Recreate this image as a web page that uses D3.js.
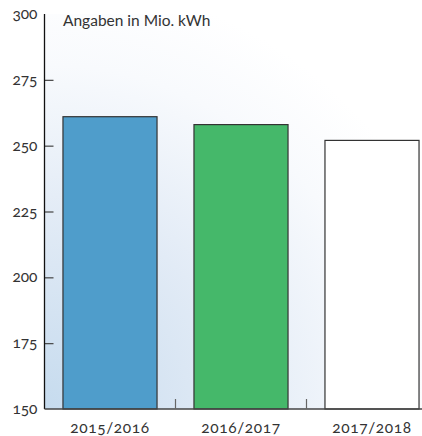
<!DOCTYPE html>
<html>
<head>
<meta charset="utf-8">
<script src="https://cdn.jsdelivr.net/npm/d3@7"></script>
<style>
    body { margin: 0; background: #fff; }
    svg { display: block; }
    .tick-label { font-family: Lato, "Noto Sans", sans-serif; font-size: 15.5px; font-weight: 400; fill: #333; font-feature-settings: "onum" 1; font-variant-numeric: oldstyle-nums; }
    .x-label { letter-spacing: 0.6px; }
</style>
</head>
<body>
<svg class="grafico"></svg>
<script>
    // data
    const jahre = ["2015/2016", "2016/2017", "2017/2018"];
    const werte = [261, 258, 252];
    const farben = ["#4f9dcb", "#45b86a", "#ffffff"];
    const yTicks = [150, 175, 200, 225, 250, 275, 300];
    const einheit = "Angaben in Mio. kWh";

    const width = 422,
        height = 436,
        links = 44.5,
        oben = 14,
        unten = 409;

    let svg = d3.select(".grafico")
        .attr("width", width)
        .attr("height", height);

    let x = d3.scaleBand()
        .domain(jahre)
        .range([links, links + 393])
        .paddingInner(0.282)
        .paddingOuter(0.141);

    let y = d3.scaleLinear()
        .domain([150, 300])
        .range([unten, oben]);

    // hintergrund verlauf
    let grad = svg.append("defs").append("radialGradient")
        .attr("id", "bg")
        .attr("gradientUnits", "userSpaceOnUse")
        .attr("cx", links).attr("cy", unten)
        .attr("r", 430);
    grad.append("stop").attr("offset", "0").attr("stop-color", "#c6dbee");
    grad.append("stop").attr("offset", "0.45").attr("stop-color", "#e2ebf6");
    grad.append("stop").attr("offset", "0.8").attr("stop-color", "#f8fafd");
    grad.append("stop").attr("offset", "1").attr("stop-color", "#ffffff");

    svg.append("rect")
        .attr("x", links)
        .attr("y", y(300))
        .attr("width", width - links)
        .attr("height", unten - y(300))
        .attr("fill", "url(#bg)");

    // balken
    svg.selectAll(".bar")
        .data(werte)
        .enter()
        .append("rect")
        .attr("class", "bar")
        .attr("x", (d, i) => x(jahre[i]))
        .attr("y", d => y(d))
        .attr("width", x.bandwidth())
        .attr("height", d => y(150) - y(d))
        .attr("fill", (d, i) => farben[i])
        .attr("stroke", "#333")
        .attr("stroke-width", 1.2);

    // y achse
    let yAxis = svg.append("g")
        .attr("transform", `translate(${links},0)`)
        .call(d3.axisRight(y).tickValues(yTicks).tickSize(9).tickFormat(""));
    yAxis.select(".domain").remove();
    yAxis.selectAll(".tick line")
        .attr("stroke", "#444")
        .attr("stroke-width", 1.2)
        .attr("x2", d => d === 150 || d === 300 ? 0 : 9);

    yAxis.selectAll(".tick")
        .append("text")
        .attr("class", "tick-label")
        .attr("x", -7)
        .attr("dy", "0.3em")
        .attr("text-anchor", "end")
        .text(d => d);

    svg.append("line")
        .attr("x1", links).attr("x2", links)
        .attr("y1", y(300)).attr("y2", unten)
        .attr("stroke", "#111").attr("stroke-width", 1.3);

    // x achse
    svg.append("line")
        .attr("x1", links).attr("x2", width)
        .attr("y1", unten).attr("y2", unten)
        .attr("stroke", "#444").attr("stroke-width", 1.3);

    svg.selectAll(".sep")
        .data(jahre.slice(1))
        .enter()
        .append("line")
        .attr("class", "sep")
        .attr("x1", d => x(d) - x.step() * x.paddingInner() / 2)
        .attr("x2", d => x(d) - x.step() * x.paddingInner() / 2)
        .attr("y1", unten)
        .attr("y2", unten - 10)
        .attr("stroke", "#666")
        .attr("stroke-width", 1.2);

    svg.selectAll(".xlabel")
        .data(jahre)
        .enter()
        .append("text")
        .attr("class", "tick-label x-label")
        .attr("x", d => x(d) + x.bandwidth() / 2)
        .attr("y", 433)
        .attr("text-anchor", "middle")
        .text(d => d);

    svg.append("text")
        .attr("class", "tick-label")
        .attr("x", 63)
        .attr("y", 26)
        .text(einheit);
</script>
</body>
</html>
